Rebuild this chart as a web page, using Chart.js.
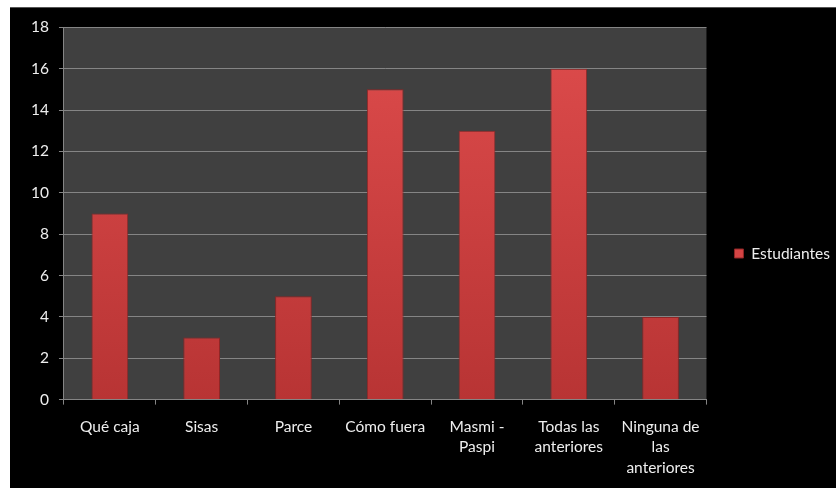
<!DOCTYPE html>
<html>
<head>
  <meta charset="utf-8">
  <title>Estudiantes</title>
  <script src="https://cdn.jsdelivr.net/npm/chart.js"></script>
  <style>
    body { margin: 0; background: #fff; }
    #box { position: absolute; left: 10px; top: 7px; width: 826px; height: 481px; background: #000; border-top: 1px solid #555; box-sizing: border-box; }
    canvas { display: block; }
  </style>
</head>
<body>
  <div id="box"><canvas id="chart" width="826" height="480"></canvas></div>

  <script>
    const categories = [
      "Qué caja",
      "Sisas",
      "Parce",
      "Cómo fuera",
      ["Masmi -", "Paspi"],
      ["Todas las", "anteriores"],
      ["Ninguna de", "las", "anteriores"]
    ];
    const seriesName = "Estudiantes";
    const values = [9, 3, 5, 15, 13, 16, 4];
    const yTicks = { min: 0, max: 18, step: 2 };

    const font = { family: "Lato, 'Open Sans', sans-serif", size: 15.5 };
    const textColor = "#eeeeee";
    const gridColor = "#858585";

    // dark plot background
    const plotBg = {
      id: "plotBg",
      beforeDraw(chart) {
        const { ctx, chartArea: a } = chart;
        ctx.save();
        ctx.fillStyle = "#404040";
        ctx.fillRect(a.left, a.top, a.right - a.left, a.bottom - a.top);
        ctx.restore();
      }
    };

    // push the legend a bit away from the plot, like the original
    const legendShift = {
      id: "legendShift",
      afterLayout(chart) {
        if (chart.legend) {
          chart.legend.left += 18;
          chart.legend.right += 18;
        }
      }
    };

    function barFill(context) {
      const { ctx, chartArea } = context.chart;
      if (!chartArea) return "#d04444";
      const g = ctx.createLinearGradient(0, chartArea.top, 0, chartArea.bottom);
      g.addColorStop(0, "#de4c4c");
      g.addColorStop(1, "#b83434");
      return g;
    }

    new Chart(document.getElementById("chart"), {
      type: "bar",
      data: {
        labels: categories,
        datasets: [{
          label: seriesName,
          data: values,
          backgroundColor: barFill,
          borderColor: "#8f2626",
          borderWidth: 1,
          categoryPercentage: 1,
          barPercentage: 0.4
        }]
      },
      options: {
        responsive: false,
        animation: false,
        layout: { padding: { top: 9, left: 11, right: 14, bottom: -2 } },
        plugins: {
          legend: {
            position: "right",
            labels: {
              color: textColor,
              font: font,
              boxWidth: 9,
              boxHeight: 9,
              padding: 10,
              generateLabels(chart) {
                return [{
                  text: seriesName,
                  fillStyle: "#d44444",
                  strokeStyle: "#8f2626",
                  lineWidth: 1,
                  fontColor: textColor,
                  datasetIndex: 0
                }];
              }
            }
          },
          tooltip: { enabled: false }
        },
        scales: {
          x: {
            grid: { color: gridColor, drawOnChartArea: false, tickLength: 5, offset: true },
            border: { color: gridColor },
            ticks: { color: textColor, font: { ...font, lineHeight: 1.32 }, padding: 12, maxRotation: 0, autoSkip: false }
          },
          y: {
            min: yTicks.min,
            max: yTicks.max,
            grid: { color: gridColor, tickLength: 5 },
            border: { color: gridColor },
            ticks: { stepSize: yTicks.step, color: textColor, font: font, padding: 10 }
          }
        }
      },
      plugins: [plotBg, legendShift]
    });
  </script>
</body>
</html>
